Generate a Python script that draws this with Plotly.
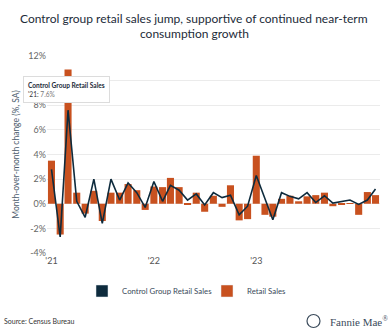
import pandas as pd
import plotly.graph_objects as go

months = pd.date_range("2021-01-01", periods=39, freq="MS")

retail_sales = [
    3.5, -2.5, 10.9, 0.9, -0.8, 1.05, -1.4, 0.9, 0.9, 1.6, 1.1, -0.5,
    1.4, 1.35, 2.1, 1.35, -0.1, 0.9, -0.65, 0.65, -0.25, 1.5, -1.35, -1.25,
    3.9, -0.9, -1.05, 0.4, 0.65, 0.2, 0.6, 0.7, 0.9, -0.2, -0.1, 0.05,
    -0.9, 0.95, 0.7,
]
control_group = [
    2.8, -2.7, 7.6, 0.2, -1.1, 2.0, -1.6, 2.0, 0.3, 1.7, 0.9, -0.3,
    1.8, 0.2, 1.5, 1.1, 0.3, 0.8, -0.1, 0.9, 0.5, 0.7, -0.9, -0.2,
    2.3, 0.4, -1.3, 0.9, 0.6, 0.4, 0.9, 0.1, 0.65, 0.05, 0.2, 0.3,
    -0.05, 0.3, 1.2,
]
x_tick_vals = ["2021-01-01", "2022-01-01", "2023-01-01"]
x_tick_text = ["'21", "'22", "'23"]
y_tick_vals = [-4, -2, 0, 2, 4, 6, 8, 10, 12]
y_tick_text = [f"{v}%" for v in y_tick_vals]

NAVY = "#0E2B3D"
ORANGE = "#C8511F"
FONT = "Lato"

W, H = 388, 333
ML, MR, MT, MB = 47, 8, 56, 80
PW, PH = W - ML - MR, H - MT - MB


def px(x):
    return (x - ML) / PW


def py(y):
    return 1 - (y - MT) / PH


fig = go.Figure()
fig.add_trace(go.Bar(
    x=months, y=retail_sales, name="Retail Sales",
    marker=dict(color=ORANGE, line=dict(width=0)), showlegend=False,
    hoverinfo="skip",
))
fig.add_trace(go.Scatter(
    x=months, y=control_group, name="Control Group Retail Sales",
    mode="lines", line=dict(color=NAVY, width=1.6), showlegend=False,
))
# legend entries
fig.add_trace(go.Bar(x=[None], y=[None], name="Control Group Retail Sales",
                     marker=dict(color=NAVY), legend="legend"))
fig.add_trace(go.Bar(x=[None], y=[None], name="Retail Sales",
                     marker=dict(color=ORANGE), legend="legend2"))

# hover-style callout on the peak control-group value
hi = control_group.index(max(control_group))
fig.add_annotation(
    x=months[hi], y=control_group[hi], xref="x", yref="y",
    text=("<b>Control Group Retail Sales</b><br>"
          f"<span style='color:#333'>'{months[hi].strftime('%y')}:</span> "
          f"<span style='color:#777'>{control_group[hi]}%</span>"),
    showarrow=False, yanchor="bottom", yshift=7, xshift=-2,
    align="left", bgcolor="white", bordercolor="#dcdcdc", borderwidth=1,
    borderpad=4, font=dict(family=FONT, size=6.6, color="#1c2b39"),
)

# title lines
fig.add_annotation(x=px(194), y=py(18), xref="paper", yref="paper",
                   text="Control group retail sales jump, supportive of continued near-term",
                   showarrow=False, xanchor="center", yanchor="middle",
                   font=dict(family=FONT, size=12, color="#1c2b39"))
fig.add_annotation(x=px(194), y=py(34), xref="paper", yref="paper",
                   text="consumption growth",
                   showarrow=False, xanchor="center", yanchor="middle",
                   font=dict(family=FONT, size=12, color="#1c2b39"))

# footer
fig.add_annotation(x=px(2), y=py(321), xref="paper", yref="paper",
                   text="Source: Census Bureau",
                   showarrow=False, xanchor="left", yanchor="middle",
                   font=dict(family=FONT, size=7, color="#333"))
fig.add_annotation(x=px(328), y=py(321), xref="paper", yref="paper",
                   text="Fannie Mae<sup>®</sup>",
                   showarrow=False, xanchor="left", yanchor="middle",
                   font=dict(family="Liberation Serif", size=11, color="#3b4b5b"))
cx, cy, r = 313.5, 321, 6.5
fig.add_shape(type="circle", xref="paper", yref="paper",
              x0=px(cx - r), x1=px(cx + r), y0=py(cy + r), y1=py(cy - r),
              line=dict(color="#3b4b5b", width=1.2))

fig.update_layout(
    width=W, height=H,
    margin=dict(l=ML, r=MR, t=MT, b=MB),
    paper_bgcolor="white", plot_bgcolor="white",
    font=dict(family=FONT, size=9, color="#555"),
    bargap=0.1,
    barmode="overlay",
    legend=dict(
        orientation="h", x=px(82), xanchor="left",
        y=py(291), yanchor="middle",
        font=dict(family=FONT, size=7.8, color="#3a4a5a"),
        bgcolor="rgba(0,0,0,0)",
    ),
    legend2=dict(
        orientation="h", x=px(207), xanchor="left",
        y=py(291), yanchor="middle",
        font=dict(family=FONT, size=7.8, color="#3a4a5a"),
        bgcolor="rgba(0,0,0,0)",
    ),
    xaxis=dict(
        range=["2020-12-16", "2024-03-17"],
        tickvals=x_tick_vals, ticktext=x_tick_text,
        showgrid=False, showline=False, zeroline=False, ticks="",
        ticklabelstandoff=1,
        tickfont=dict(family=FONT, size=9, color="#555"),
    ),
    yaxis=dict(
        range=[-4, 12], tickvals=y_tick_vals, ticktext=y_tick_text,
        showgrid=True, gridcolor="#ebebeb", gridwidth=1, zeroline=False,
        showline=False, ticks="",
        tickfont=dict(family=FONT, size=9, color="#666"),
        title=dict(text="Month-over-month change (%, SA)", standoff=7,
                   font=dict(family=FONT, size=8.5, color="#4d5d6d")),
    ),
)

fig.write_html("out.html")
